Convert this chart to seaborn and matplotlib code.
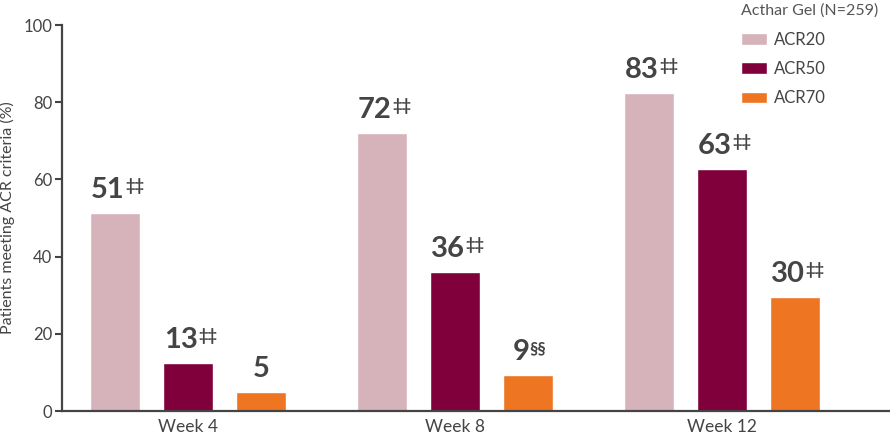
import numpy as np
import matplotlib
matplotlib.use("Agg")
import matplotlib.pyplot as plt
import pandas as pd
import seaborn as sns

# data
weeks = ["Week 4", "Week 8", "Week 12"]
measures = ["ACR20", "ACR50", "ACR70"]
acr20 = [51.3, 72.0, 82.4]
acr50 = [12.4, 36.0, 62.7]
acr70 = [4.9, 9.2, 29.6]
labels20 = ["51", "72", "83"]
labels50 = ["13", "36", "63"]
labels70 = ["5", "9", "30"]
marks20 = ["‡‡", "‡‡", "‡‡"]
marks50 = ["‡‡", "‡‡", "‡‡"]
marks70 = ["", "§§", "‡‡"]
legend_title = "Acthar Gel (N=259)"

colors = ["#D6B3BA", "#80003C", "#EE7623"]
txt_col = "#444444"

df = pd.DataFrame({
    "week": weeks * 3,
    "measure": np.repeat(measures, 3),
    "value": acr20 + acr50 + acr70,
})

sns.set_style("white")
plt.rcParams["font.family"] = ["Lato", "DejaVu Sans"]

fig = plt.figure(figsize=(8.9, 4.38), dpi=100)
ax = fig.add_axes([62 / 890, 1 - 411 / 438, 1 - 62 / 890, (411 - 25) / 438])

sns.barplot(data=df, x="week", y="value", hue="measure", order=weeks,
            hue_order=measures, palette=colors, width=0.82, gap=0.315,
            saturation=1, ax=ax, legend=True)

ax.set_ylim(0, 100)
ax.set_xlim(-0.472, 2.629)
ax.set_yticks([0, 20, 40, 60, 80, 100])
ax.tick_params(axis="y", direction="out", length=5, width=1.5, color=txt_col,
               labelsize=12, labelcolor=txt_col, pad=2, left=True)
ax.tick_params(axis="x", length=0, labelsize=12.5, labelcolor=txt_col, pad=6)
ax.set_xlabel("")
ax.set_ylabel("Patients meeting ACR criteria (%)", fontsize=11.5, color=txt_col, labelpad=6)
for s in ["top", "right"]:
    ax.spines[s].set_visible(False)
for s in ["left", "bottom"]:
    ax.spines[s].set_color(txt_col)
    ax.spines[s].set_linewidth(1.6)

# value labels with superscript marks
all_labels = [labels20, labels50, labels70]
all_marks = [marks20, marks50, marks70]
for cont, labs, mks in zip(ax.containers, all_labels, all_marks):
    for bar, lab, mk in zip(cont, labs, mks):
        cx = bar.get_x() + bar.get_width() / 2
        top = bar.get_height()
        dx = -7 if mk else 0
        t = ax.annotate(lab, xy=(cx, top), xytext=(dx, 15), textcoords="offset pixels",
                        ha="center", va="baseline", fontsize=21, fontweight="bold",
                        color=txt_col)
        if mk:
            ax.annotate(mk, xy=(1.0, 0.97), xycoords=t, xytext=(0, 0),
                        textcoords="offset pixels", ha="left", va="top",
                        fontsize=12, fontweight="bold", color=txt_col)

leg = ax.get_legend()
handles = leg.legend_handles
leg.remove()
fig.legend(handles, measures, title=legend_title, loc="upper right",
           bbox_to_anchor=(888 / 890, 1.014), frameon=False, fontsize=12,
           title_fontsize=11.5, alignment="left", handlelength=1.6,
           handleheight=0.7, handletextpad=0.4, labelspacing=0.8,
           borderpad=0.1, labelcolor=txt_col)
fig.legends[0].get_title().set_color("#555555")

fig.savefig("out.png", dpi=100)
